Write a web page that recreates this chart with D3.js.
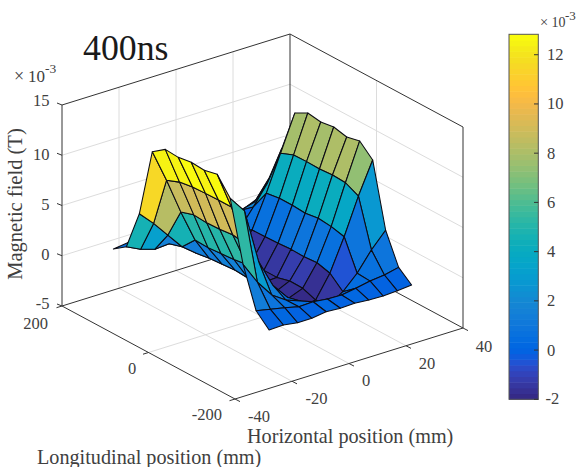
<!DOCTYPE html>
<html><head><meta charset="utf-8">
<script src="https://cdn.jsdelivr.net/npm/d3@7"></script>
<style>html,body{margin:0;padding:0;background:#fff}svg{display:block}text{font-family:"Liberation Serif","Times New Roman",serif}</style>
</head><body>
<svg id="c" width="578" height="467"></svg>
<script>
// Grid positions (mm)
const horizontalPos = [-25,-20,-15,-10,-5,0,5,10,15,20,25];
const longitudinalPos = [180,150,120,90,60,30,0,-30,-60,-90,-120,-150,-180];
// Magnetic field (x 10^-3 T), one row per horizontal position, columns follow longitudinalPos
const fieldH0  = [-0.2,0.73,4.7,11.57,12.5,12.4,12.6,12.5,12.8,11.1,5.2,1.3,0.08];
const fieldH1  = [0.0,0.03,3.3,8.3,8.8,9.0,9.07,9.1,9.1,9.4,3.0,1.0,0.13];
const fieldH2  = [-0.3,-0.4,1.7,4.7,5.1,5.0,5.05,5.2,5.0,3.9,1.3,0.72,-0.08];
const fieldH3  = [-0.4,-0.3,0.1,1.46,1.4,1.5,1.6,1.8,2.2,1.1,0.35,0.38,-0.08];
const fieldH4  = [-0.5,-0.6,-1.0,-0.8,-0.7,-0.6,-0.7,-0.6,-0.4,-0.5,-0.2,0.43,0.13];
const fieldH5  = [-0.3,-0.5,-0.9,-1.4,-1.5,-1.5,-1.6,-1.8,-1.76,-1.9,-0.84,0.26,0.03];
const fieldH6  = [-0.2,-0.3,-0.7,-1.3,-1.5,-1.5,-1.5,-1.16,-1.2,-1.67,-1.5,0.22,0.1];
const fieldH7  = [-0.1,0.1,0.0,0.69,0.72,0.76,0.85,0.8,0.9,0.55,-0.59,0.44,-0.03];
const fieldH8  = [-0.2,0.8,1.85,3.9,4.1,4.1,4.0,4.2,4.06,3.74,0.8,0.72,-0.07];
const fieldH9  = [-0.3,1.2,3.8,7.44,7.96,8.0,7.96,8.06,7.98,7.35,2.68,0.88,0.0];
const fieldH10 = [0.3,3.1,6.8,11.0,11.7,11.5,11.7,11.4,11.7,10.5,4.2,1.2,0.14];
const field = [fieldH0,fieldH1,fieldH2,fieldH3,fieldH4,fieldH5,fieldH6,fieldH7,fieldH8,fieldH9,fieldH10];
// Tick labels
const xTicks = [-40,-20,0,20,40];
const yTicks = [200,0,-200];
const zTicks = [-5,0,5,10,15];
const cbTicks = [-2,0,2,4,6,8,10,12];
const colorLimits = [-2,12.83];
const parula = [[.2081,.1663,.5292],[.2116,.1898,.5777],[.2123,.2138,.6270],[.2081,.2386,.6771],[.1959,.2645,.7279],[.1707,.2919,.7792],[.1253,.3242,.8303],[.0591,.3598,.8683],[.0117,.3875,.8820],[.0060,.4086,.8828],[.0165,.4266,.8786],[.0329,.4430,.8720],[.0498,.4586,.8641],[.0629,.4737,.8554],[.0723,.4887,.8467],[.0779,.5040,.8384],[.0793,.5200,.8312],[.0749,.5375,.8263],[.0641,.5570,.8240],[.0488,.5772,.8228],[.0343,.5966,.8199],[.0265,.6137,.8135],[.0239,.6287,.8038],[.0231,.6418,.7913],[.0228,.6535,.7768],[.0267,.6642,.7607],[.0384,.6743,.7436],[.0590,.6838,.7254],[.0843,.6928,.7062],[.1133,.7015,.6859],[.1453,.7098,.6646],[.1801,.7177,.6424],[.2178,.7250,.6193],[.2586,.7317,.5954],[.3022,.7376,.5712],[.3482,.7424,.5473],[.3953,.7459,.5244],[.4420,.7481,.5033],[.4871,.7491,.4840],[.5300,.7491,.4661],[.5709,.7485,.4494],[.6099,.7473,.4337],[.6473,.7456,.4188],[.6834,.7435,.4044],[.7184,.7411,.3905],[.7525,.7384,.3768],[.7858,.7356,.3633],[.8185,.7327,.3498],[.8507,.7299,.3360],[.8824,.7274,.3217],[.9139,.7258,.3063],[.9450,.7261,.2886],[.9739,.7314,.2666],[.9938,.7455,.2403],[.9990,.7653,.2164],[.9955,.7861,.1967],[.9880,.8066,.1794],[.9789,.8271,.1633],[.9697,.8481,.1475],[.9626,.8705,.1309],[.9589,.8949,.1132],[.9598,.9218,.0948],[.9661,.9514,.0755],[.9763,.9831,.0538]];

const svg = d3.select("#c");
const hex = parula.map(c => d3.rgb(c[0]*255,c[1]*255,c[2]*255).formatHex());
const color = d3.scaleQuantize().domain(colorLimits).range(hex);

// Projection of the 3-D box on the page
const uS = d3.scaleLinear().domain([-40,40]).range([0,1]);
const wS = d3.scaleLinear().domain([-200,200]).range([0,1]);
const zS = d3.scaleLinear().domain([-5,15]).range([0,201]);
const P = (x,y,z) => {
  const u = uS(x), w = wS(y);
  return [235 + 228*u - 173*w, 399 - 71*u - 93*w - zS(z)];
};
const line = pts => "M" + pts.map(p => p[0].toFixed(2)+","+p[1].toFixed(2)).join("L");
const axisInk = "#333333", gridInk = "#dcdcdc";

// Grid on the walls and the floor
const grid = [];
[-20,0,20].forEach(x => { grid.push([P(x,-200,-5),P(x,200,-5),P(x,200,15)]); });
[0].forEach(y => { grid.push([P(-40,y,-5),P(40,y,-5),P(40,y,15)]); });
[0,5,10].forEach(z => { grid.push([P(-40,200,z),P(40,200,z),P(40,-200,z)]); });
svg.append("g").selectAll("path").data(grid).join("path")
  .attr("d",line).attr("fill","none").attr("stroke",gridInk).attr("stroke-width",1);

// Box
const box = [
  [P(-40,200,15),P(-40,200,-5),P(-40,-200,-5),P(40,-200,-5),P(40,-200,15),P(40,200,15),P(-40,200,15)],
  [P(40,200,15),P(40,200,-5)],
  [P(-40,200,-5),P(40,200,-5),P(40,-200,-5)]
];
svg.append("g").selectAll("path").data(box).join("path")
  .attr("d",line).attr("fill","none").attr("stroke",axisInk).attr("stroke-width",1);

// Ticks
const tickLines = [];
xTicks.forEach(x => { const a=P(x,-200,-5); tickLines.push([a,[a[0]+5,a[1]+2.6]]); });
yTicks.forEach(y => { const a=P(-40,y,-5); tickLines.push([a,[a[0]-5.5,a[1]+1.7]]); });
zTicks.forEach(z => { const a=P(-40,200,z); tickLines.push([a,[a[0]-5,a[1]-2]]); });
svg.append("g").selectAll("path").data(tickLines).join("path")
  .attr("d",line).attr("fill","none").attr("stroke",axisInk).attr("stroke-width",1);

// Surface: far cells first; each face takes its colour from the corner with the lowest x and y
const cells = [];
for (let j=0;j<longitudinalPos.length-1;j++){
  for (let i=horizontalPos.length-2;i>=0;i--){
    cells.push({i,j});
  }
}
const V = (i,j) => P(horizontalPos[i],longitudinalPos[j],field[i][j]);
svg.append("g").selectAll("path").data(cells).join("path")
  .attr("d",d => line([V(d.i,d.j),V(d.i+1,d.j),V(d.i+1,d.j+1),V(d.i,d.j+1)])+"Z")
  .attr("fill",d => color(field[d.i][d.j+1]))
  .attr("stroke","#0c0c14").attr("stroke-width",1.05).attr("stroke-linejoin","round");

// Text helpers
const T = (s,x,y,size,anchor,fill) => svg.append("text").text(s).attr("x",x).attr("y",y)
  .attr("font-size",size).attr("text-anchor",anchor||"start").attr("fill",fill||"#404040");

// Tick labels
const zLabelY = {"-5":309,"0":260,"5":210,"10":160,"15":106};
zTicks.forEach(z => T(String(z),49.5,zLabelY[z],16.5,"end"));
T("200",48,329,16.5,"end"); T("0",132,374,16.5,"middle"); T("-200",222,420,16.5,"end");
T("-40",259,422,16.5,"middle"); T("-20",316.5,403.5,16.5,"middle"); T("0",366,386,16.5,"middle");
T("20",427,368.5,16.5,"middle"); T("40",484,351.5,16.5,"middle");

// Axis titles
T("Horizontal position (mm)",247,443,20.2);
T("Longitudinal position (mm)",37,464,20.2);
svg.append("text").text("Magnetic field (T)").attr("font-size",20.5).attr("text-anchor","middle")
  .attr("transform","translate(22,204) rotate(-90)").attr("fill","#404040");

// Title and multipliers
T("400ns",83,60,35.8,"start","#1a1a1a");
T("\u00d7",14,82,18); T("10",28,82,17); T("-3",45,73,13.5);
T("\u00d7",540,27,14.5); T("10",551.5,27,14); T("-3",565,20,13);

// Colorbar
const cbY = d3.scaleLinear().domain(colorLimits).range([399.3,34.3]);
const step = (colorLimits[1]-colorLimits[0])/hex.length;
svg.append("g").selectAll("rect").data(hex).join("rect")
  .attr("x",509).attr("width",29.3)
  .attr("y",(c,k)=>cbY(colorLimits[0]+(k+1)*step))
  .attr("height",(c,k)=>cbY(colorLimits[0]+k*step)-cbY(colorLimits[0]+(k+1)*step)+0.5)
  .attr("fill",c=>c);
svg.append("rect").attr("x",509).attr("y",34.3).attr("width",29.3).attr("height",365)
  .attr("fill","none").attr("stroke","#555555").attr("stroke-width",1);
svg.append("g").selectAll("path").data(cbTicks).join("path")
  .attr("d",t=>`M534,${cbY(t)}L538.3,${cbY(t)}`).attr("stroke","#333333").attr("stroke-width",1);
cbTicks.forEach(t => T(String(t),t<0?545.5:547,cbY(t)+(t<0?4.5:5.5),16.5));
</script>
</body></html>
